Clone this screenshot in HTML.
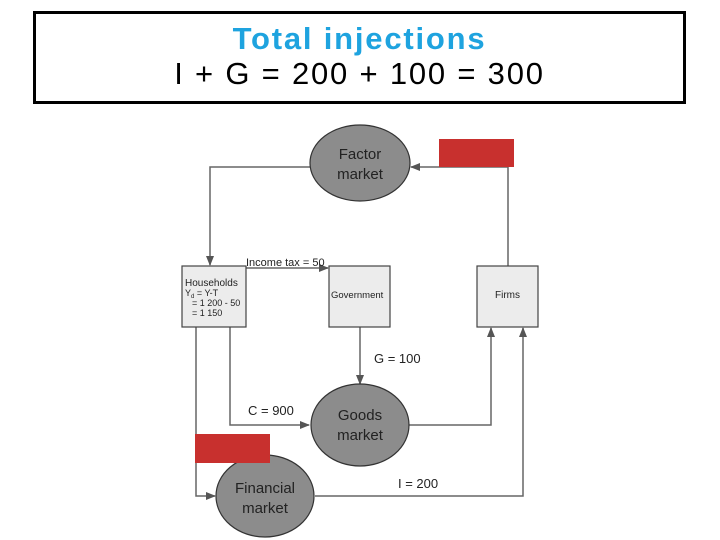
<!DOCTYPE html>
<html><head><style>
body{margin:0;width:720px;height:540px;background:#fff;overflow:hidden;font-family:"Liberation Sans",sans-serif;}
.hdr{position:absolute;left:33px;top:11px;width:647px;height:87px;border:3px solid #000;text-align:center;font-family:"Liberation Sans",sans-serif;}
.t1{color:#1ea3df;font-weight:bold;font-size:31px;line-height:34px;margin-top:8px;letter-spacing:1.8px;}
.t2{color:#000;font-size:31px;line-height:36px;letter-spacing:1.8px;}
</style></head><body>
<div class="hdr"><div class="t1">Total injections</div><div class="t2">I + G = 200 + 100 = 300</div></div>
<svg width="720" height="540" style="position:absolute;left:0;top:0" font-family="Liberation Sans, sans-serif">
<defs><marker id="a" markerWidth="10" markerHeight="8" refX="9" refY="4" orient="auto" markerUnits="userSpaceOnUse"><path d="M0,0L10,4L0,8z" fill="#555"/></marker></defs>
<g stroke="#666" stroke-width="1.5" fill="none">
<path d="M310,167H210V265" marker-end="url(#a)"/>
<path d="M508,266V167H411" marker-end="url(#a)"/>
<path d="M246,268H328" marker-end="url(#a)"/>
<path d="M360,327V384" marker-end="url(#a)"/>
<path d="M230,327V425H309" marker-end="url(#a)"/>
<path d="M196,327V496H215" marker-end="url(#a)"/>
<path d="M409,425H491V328" marker-end="url(#a)"/>
<path d="M315,496H523V328" marker-end="url(#a)"/>
</g>
<g fill="#8c8c8c" stroke="#333" stroke-width="1.2">
<ellipse cx="360" cy="163" rx="50" ry="38"/>
<ellipse cx="360" cy="425" rx="49" ry="41"/>
<ellipse cx="265" cy="496" rx="49" ry="41"/>
</g>
<g fill="#ececec" stroke="#444" stroke-width="1.2">
<rect x="182" y="266" width="64" height="61"/>
<rect x="329" y="266" width="61" height="61"/>
<rect x="477" y="266" width="61" height="61"/>
</g>
<rect x="439" y="139" width="75" height="28" fill="#c8302e"/>
<rect x="195" y="434" width="75" height="29" fill="#c8302e"/>
<g fill="#222" font-size="15" text-anchor="middle">
<text x="360" y="159">Factor</text><text x="360" y="179">market</text>
<text x="360" y="420">Goods</text><text x="360" y="440">market</text>
<text x="265" y="493">Financial</text><text x="265" y="513">market</text>
</g>
<g fill="#222" font-size="10">
<text x="185" y="286">Households</text>
<text x="185" y="296" font-size="9">Y<tspan font-size="6" dy="2">d</tspan><tspan dy="-2"> = Y-T</tspan></text>
<text x="192" y="306" font-size="9">= 1 200 - 50</text>
<text x="192" y="316" font-size="9">= 1 150</text>
<text x="331" y="298" font-size="9.5">Government</text>
<text x="495" y="298">Firms</text>
<text x="246" y="266" font-size="11">Income tax = 50</text>
</g>
<g fill="#222" font-size="13">
<text x="374" y="363">G = 100</text>
<text x="248" y="415">C = 900</text>
<text x="398" y="488">I = 200</text>
</g>
</svg>
</body></html>
